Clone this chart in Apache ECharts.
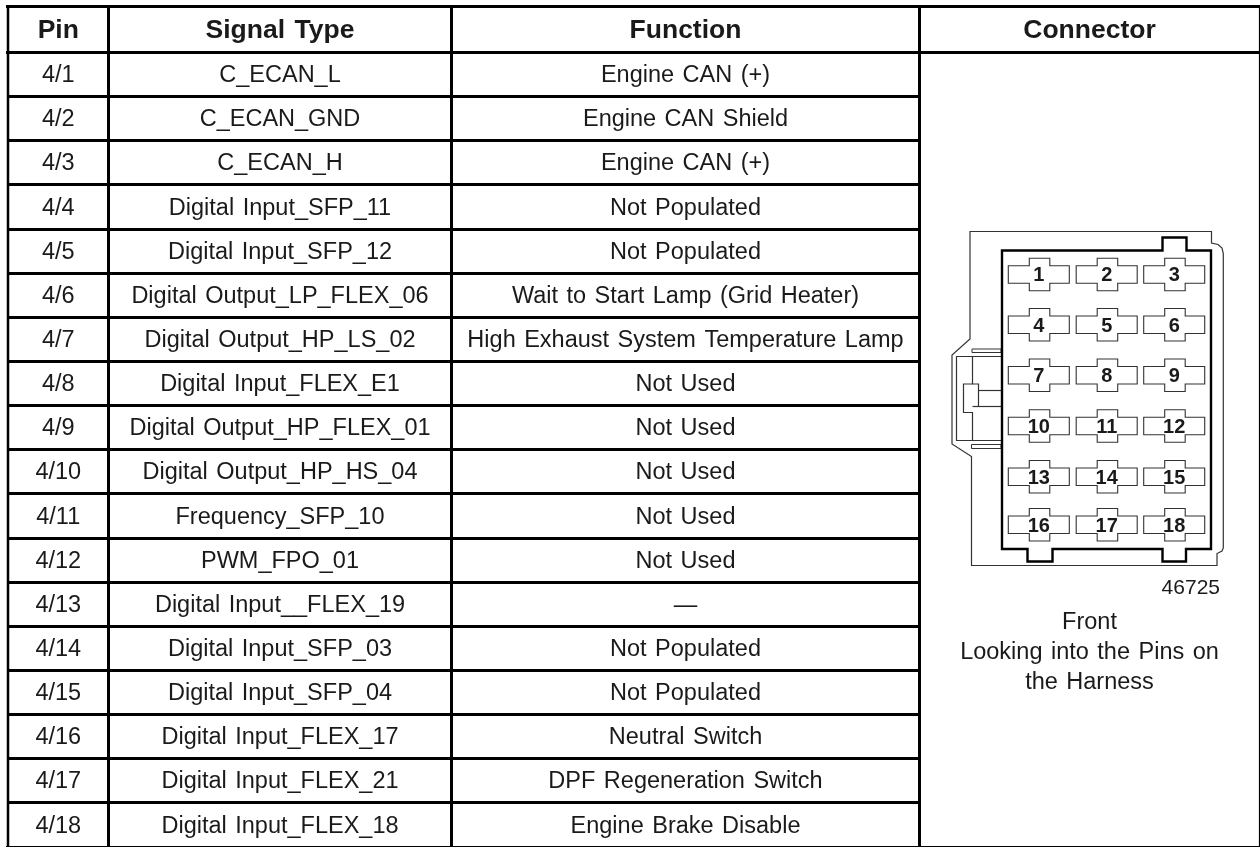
<!DOCTYPE html>
<html>
<head>
<meta charset="utf-8">
<title>Connector 4 pinout</title>
<script src="https://cdn.jsdelivr.net/npm/echarts@6/dist/echarts.min.js"></script>
<style>
html, body { margin: 0; padding: 0; background: #fff; }
#main { width: 1260px; height: 847px; }
</style>
</head>
<body>
<div id="main"></div>
<script>
var headers = ['Pin', 'Signal Type', 'Function', 'Connector']
var pins = ['4/1', '4/2', '4/3', '4/4', '4/5', '4/6', '4/7', '4/8', '4/9', '4/10', '4/11', '4/12', '4/13', '4/14', '4/15', '4/16', '4/17', '4/18']
var signalTypes = [
  'C_ECAN_L', 'C_ECAN_GND', 'C_ECAN_H', 'Digital Input_SFP_11', 'Digital Input_SFP_12',
  'Digital Output_LP_FLEX_06', 'Digital Output_HP_LS_02', 'Digital Input_FLEX_E1',
  'Digital Output_HP_FLEX_01', 'Digital Output_HP_HS_04', 'Frequency_SFP_10', 'PWM_FPO_01',
  'Digital Input__FLEX_19', 'Digital Input_SFP_03', 'Digital Input_SFP_04',
  'Digital Input_FLEX_17', 'Digital Input_FLEX_21', 'Digital Input_FLEX_18'
]
var functions = [
  'Engine CAN (+)', 'Engine CAN Shield', 'Engine CAN (+)', 'Not Populated', 'Not Populated',
  'Wait to Start Lamp (Grid Heater)', 'High Exhaust System Temperature Lamp', 'Not Used',
  'Not Used', 'Not Used', 'Not Used', 'Not Used', '—', 'Not Populated', 'Not Populated',
  'Neutral Switch', 'DPF Regeneration Switch', 'Engine Brake Disable'
]
var connectorPins = [1, 2, 3, 4, 5, 6, 7, 8, 9, 10, 11, 12, 13, 14, 15, 16, 17, 18]
var drawingNumber = '46725'
var connectorNotes = ['Front', 'Looking into the Pins on', 'the Harness']

// layout of the sheet, in page pixels (the axes below run 0-1260 / 0-847)
var columnEdges = [8, 108.5, 451.5, 919.5, 1259.5]
var headerBottom = 52.5
var rowHeight = 44.14
var pinColumns = [1038.8, 1106.7, 1174.2]
var pinRows = [274.7, 325, 375.5, 426.3, 477, 525]
var FONT = '"Liberation Sans", Arial, sans-serif'
var TEXT = '#1a1a1a'

function rowLine (i) {
  return Math.round(headerBottom + i * rowHeight - 0.5) + 0.5
}

function polyline (api, points, width, color, closed) {
  var shapeType = closed ? 'polygon' : 'polyline'
  return {
    type: shapeType,
    shape: { points: points.map(function (p) { return api.coord(p) }) },
    style: { fill: closed ? '#fff' : null, stroke: color, lineWidth: width }
  }
}

function rule (api, x1, y1, x2, y2, width, color) {
  var a = api.coord([x1, y1])
  var b = api.coord([x2, y2])
  return {
    type: 'line',
    shape: { x1: a[0], y1: a[1], x2: b[0], y2: b[1] },
    style: { stroke: color || '#000', lineWidth: width }
  }
}

// the source sets words a little further apart than the font does
function wide (text) {
  return text.replace(/ /g, ' \u200a')
}

function label (api, x, y, text, size, weight, align) {
  var p = api.coord([x, y])
  return {
    type: 'text',
    x: p[0],
    y: p[1],
    style: {
      text: wide(text),
      font: (weight || 'normal') + ' ' + size + 'px ' + FONT,
      fill: TEXT,
      align: align || 'center',
      verticalAlign: 'middle'
    }
  }
}

function renderRules (params, api) {
  var right = columnEdges[4]
  var kids = [
    rule(api, 6, 6.5, right, 6.5, 3),
    rule(api, 6, headerBottom, right, headerBottom, 3),
    rule(api, columnEdges[0], 5, columnEdges[0], 847, 2.5),
    rule(api, columnEdges[1], 5, columnEdges[1], 847, 3),
    rule(api, columnEdges[2], 5, columnEdges[2], 847, 3),
    rule(api, columnEdges[3], 5, columnEdges[3], 847, 3),
    rule(api, right, 5, right, 847, 1.2),
    rule(api, 6, 846.5, right, 846.5, 1.2)
  ]
  for (var i = 1; i < pins.length; i++) {
    kids.push(rule(api, columnEdges[0], rowLine(i), columnEdges[3], rowLine(i), 3))
  }
  return { type: 'group', children: kids }
}

function renderHeader (params, api) {
  var c = api.value(0)
  var x = (columnEdges[c] + columnEdges[c + 1]) / 2
  return label(api, x, 30.5, headers[c], 26.5, 'bold')
}

function renderRow (params, api) {
  var i = api.value(0)
  var y = (rowLine(i) + rowLine(i + 1)) / 2 + 1.5
  return {
    type: 'group',
    children: [
      label(api, (columnEdges[0] + columnEdges[1]) / 2, y, pins[i], 23.5),
      label(api, (columnEdges[1] + columnEdges[2]) / 2, y, signalTypes[i], 23.5),
      label(api, (columnEdges[2] + columnEdges[3]) / 2, y, functions[i], 23.5)
    ]
  }
}

function renderBody (params, api) {
  var grey = '#333'
  var outer = [
    [970, 231.5], [1211.5, 231.5], [1211.5, 243], [1218, 244.5], [1222, 248], [1223.3, 253.5], [1223.3, 548],
    [1222, 551], [1217, 553.5], [1217, 565.5], [971.5, 565.5], [971.5, 456.5], [952, 444], [952, 355], [970, 339]
  ]
  var inner = [
    [1002, 250.5], [1162.5, 250.5], [1162.5, 237.5], [1186.5, 237.5], [1186.5, 250.5], [1211, 250.5],
    [1211, 549], [1186, 549], [1186, 561.5], [1162.5, 561.5], [1162.5, 549], [1052.5, 549],
    [1052.5, 561.5], [1027.5, 561.5], [1027.5, 549], [1002, 549]
  ]
  return {
    type: 'group',
    children: [
      polyline(api, outer, 1.2, grey, true),
      // latch on the left side
      polyline(api, [[972, 349], [1001, 349], [1001, 352.5], [972, 352.5]], 1, grey, true),
      polyline(api, [[971.5, 444.5], [1001, 444.5], [1001, 448.5], [971.5, 448.5]], 1, grey, true),
      polyline(api, [[1001.5, 356.5], [956.5, 356.5], [956.5, 440.5], [1001.5, 440.5]], 1.2, grey),
      polyline(api, [[972.5, 356.5], [972.5, 384], [963.5, 384], [963.5, 412.5], [972.5, 412.5], [972.5, 440.5]], 1.2, grey),
      polyline(api, [[972.5, 384], [978.5, 384], [978.5, 406.5]], 1.2, grey),
      rule(api, 978.5, 390.5, 1001.5, 390.5, 1.2, grey),
      rule(api, 972.5, 406.5, 1001.5, 406.5, 1.2, grey),
      polyline(api, inner, 2.4, '#000', true)
    ]
  }
}

function renderPin (params, api) {
  var n = api.value(0)
  var cx = pinColumns[(n - 1) % 3]
  var cy = pinRows[Math.floor((n - 1) / 3)]
  var cross = [
    [cx - 30.5, cy - 9], [cx - 9.5, cy - 9], [cx - 9.5, cy - 16.5], [cx + 11, cy - 16.5], [cx + 11, cy - 9],
    [cx + 30.5, cy - 9], [cx + 30.5, cy + 8.5], [cx + 11, cy + 8.5], [cx + 11, cy + 16], [cx - 9.5, cy + 16],
    [cx - 9.5, cy + 8.5], [cx - 30.5, cy + 8.5]
  ]
  return {
    type: 'group',
    children: [
      polyline(api, cross, 1.1, '#333', true),
      label(api, cx, cy + 1, String(connectorPins[n - 1]), 20, 'bold')
    ]
  }
}

function renderNotes (params, api) {
  var i = api.value(0)
  return label(api, 1089.5, 622.5 + i * 30, connectorNotes[i], 23.5)
}

var chart = echarts.init(document.getElementById('main'))
chart.setOption({
  animation: false,
  backgroundColor: '#fff',
  grid: { left: 0, right: 0, top: 0, bottom: 0 },
  xAxis: { type: 'value', min: 0, max: 1260, show: false },
  yAxis: { type: 'value', min: 0, max: 847, inverse: true, show: false },
  series: [
    { type: 'custom', silent: true, clip: false, renderItem: renderRules, data: [[0]] },
    { type: 'custom', silent: true, clip: false, renderItem: renderHeader, data: headers.map(function (h, i) { return [i] }) },
    { type: 'custom', silent: true, clip: false, renderItem: renderRow, data: pins.map(function (p, i) { return [i] }) },
    { type: 'custom', silent: true, clip: false, renderItem: renderBody, data: [[0]] },
    { type: 'custom', silent: true, clip: false, renderItem: renderPin, data: connectorPins.map(function (n) { return [n] }) },
    { type: 'custom', silent: true, clip: false, renderItem: function (params, api) { return label(api, 1220, 588.5, drawingNumber, 21, 'normal', 'right') }, data: [[0]] },
    { type: 'custom', silent: true, clip: false, renderItem: renderNotes, data: connectorNotes.map(function (t, i) { return [i] }) }
  ]
})
</script>
</body>
</html>
